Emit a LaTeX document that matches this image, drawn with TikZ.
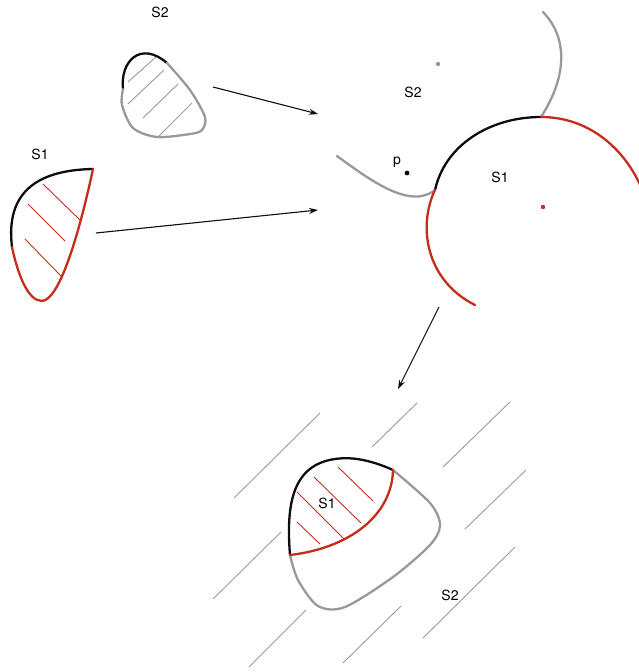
\documentclass[tikz,border=0pt]{standalone}
\usepackage{fontspec}
\setmainfont{TeX Gyre Heros}
\usepackage{tikz}
\usetikzlibrary{arrows.meta, calc}
\definecolor{mainBlack}{gray}{0.05}
\definecolor{mainRed}{RGB}{196,44,28}
\definecolor{mainGray}{gray}{0.6}

\begin{document}
\begin{tikzpicture}[x=1pt, y=-1pt, >={Stealth[length=9pt, width=6pt]},
    rim/.style={line width=2.3pt, line cap=round},
    hatch/.style={line width=0.9pt},
    label/.style={font=\fontsize{14}{16}\selectfont, inner sep=1pt}]
    \useasboundingbox (0,0) rectangle (639,672);

    \coordinate (A1) at (213,87);
    \coordinate (B1) at (318,114);
    \coordinate (A2) at (96,233);
    \coordinate (B2) at (318,210);
    \coordinate (A3) at (439,307);
    \coordinate (B3) at (398,389);

    \node[label] (s2a) at (160,12) {S2};
    \draw[rim, mainBlack] (123,89) .. controls (120,62) and (140,40) .. (167,63);
    \draw[rim, mainGray] plot[smooth] coordinates {(167,63) (190,90) (205,117) (202,130) (190,134) (157,137) (133,128) (122,105) (123,89)};
    \draw[hatch, mainGray] (128,82) -- (156,57);
    \draw[hatch, mainGray] (128,104) -- (164,70);
    \draw[hatch, mainGray] (143,118) -- (178,84);
    \draw[hatch, mainGray] (158,137) -- (192,103);

    \node[label] (s1a) at (40,154) {S1};
    \draw[rim, mainBlack] (12,247) .. controls (5,190) and (40,170) .. (93,169);
    \draw[rim, mainRed] (93,169) .. controls (80,230) and (60,300) .. (42,301) .. controls (28,301) and (18,275) .. (12,247);
    \draw[hatch, mainRed] (43,184) -- (80,220);
    \draw[hatch, mainRed] (28,204) -- (65,241);
    \draw[hatch, mainRed] (25,239) -- (61,276);

    \draw[->, line width=1.1pt, mainBlack] (A1) -- (B1);
    \draw[->, line width=1.1pt, mainBlack] (A2) -- (B2);

    \node[label] (s2b) at (413,92) {S2};
    \node[label] (pb) at (397,162) {p};
    \node[label] (s1b) at (500,177) {S1};
    \fill[mainGray] (438,64) circle (2.2);
    \fill[mainBlack] (407,173) circle (2.4);
    \fill[mainRed] (543,207) circle (2.2);
    \draw[rim, mainGray] (543,12) .. controls (570,40) and (565,80) .. (541,117);
    \draw[rim, mainGray] (337,156) .. controls (370,180) and (410,210) .. (435,190);
    \draw[rim, mainBlack] (541,117) .. controls (490,117) and (445,145) .. (435,190);
    \draw[rim, mainRed] (541,117) .. controls (590,117) and (625,150) .. (641,187);
    \draw[rim, mainRed] (435,190) .. controls (418,225) and (425,280) .. (475,305);

    \draw[->, line width=1.1pt, mainBlack] (A3) -- (B3);

    \draw[hatch, mainGray] (320,413) -- (234,498);
    \draw[hatch, mainGray] (417,403) -- (372,447);
    \draw[hatch, mainGray] (510,402) -- (443,467);
    \draw[hatch, mainGray] (526,470) -- (465,529);
    \draw[hatch, mainGray] (515,547) -- (423,638);
    \draw[hatch, mainGray] (401,606) -- (343,663);
    \draw[hatch, mainGray] (306,610) -- (249,667);
    \draw[hatch, mainGray] (281,532) -- (213,599);

    \draw[rim, mainBlack] (290,555) .. controls (286,505) and (292,465) .. (335,459) .. controls (355,456) and (375,462) .. (393,470);
    \draw[rim, mainGray] plot[smooth] coordinates {(393,470) (430,503) (440,525) (430,545) (393,577) (345,607) (318,606) (298,580) (290,555)};
    \draw[rim, mainRed] (290,555) .. controls (350,548) and (392,515) .. (393,470);
    \draw[hatch, mainRed] (338,467) -- (373,501);
    \draw[hatch, mainRed] (314,477) -- (361,523);
    \draw[hatch, mainRed] (297,492) -- (344,539);
    \draw[hatch, mainRed] (297,522) -- (320,544);
    \node[label] (s1c) at (327,503) {S1};
    \node[label] (s2c) at (450,595) {S2};
\end{tikzpicture}
\end{document}
